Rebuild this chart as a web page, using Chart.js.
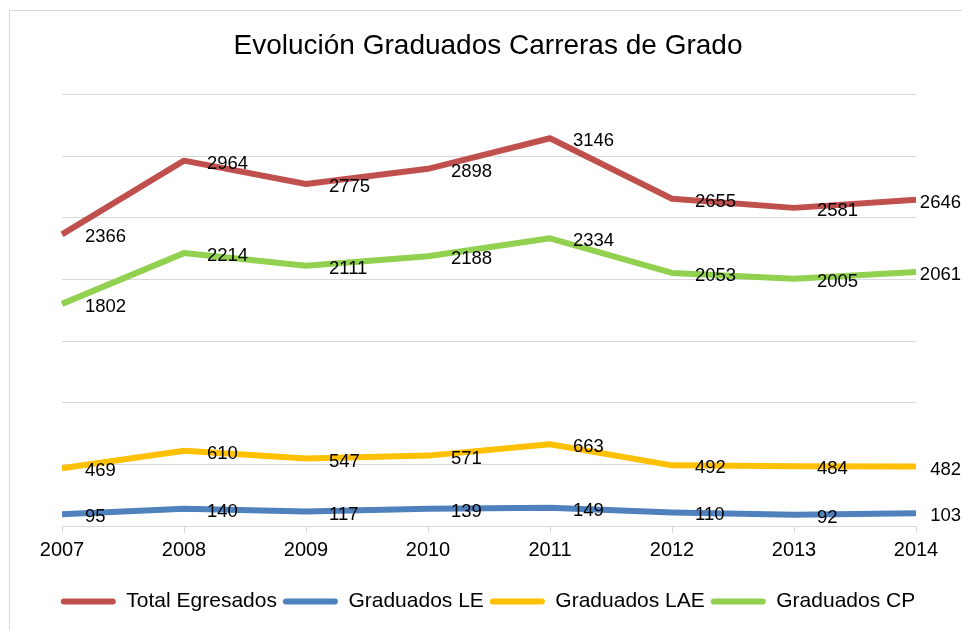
<!DOCTYPE html>
<html lang="es">
<head>
<meta charset="utf-8">
<title>Evolución Graduados Carreras de Grado</title>
<script src="https://cdn.jsdelivr.net/npm/chart.js@4.4.1/dist/chart.umd.min.js"></script>
<style>
  html, body { margin: 0; padding: 0; background: #fff; overflow: hidden; }
</style>
</head>
<body>
<canvas id="grafico" width="962" height="630"></canvas>
<script>
// Datos
const anios = ['2007', '2008', '2009', '2010', '2011', '2012', '2013', '2014'];
const totalEgresados = [2366, 2964, 2775, 2898, 3146, 2655, 2581, 2646];
const graduadosLE = [95, 140, 117, 139, 149, 110, 92, 103];
const graduadosLAE = [469, 610, 547, 571, 663, 492, 484, 482];
const graduadosCP = [1802, 2214, 2111, 2188, 2334, 2053, 2005, 2061];

const FUENTE = '"Liberation Sans", Arial, sans-serif';
const COLOR_GRILLA = '#d9d9d9';

/** Fondo blanco y borde del área del gráfico (estilo Excel) */
const fondoYBorde = {
  id: 'fondoYBorde',
  beforeDraw(chart) {
    const ctx = chart.ctx;
    ctx.save();
    ctx.fillStyle = '#fff';
    ctx.fillRect(0, 0, chart.width, chart.height);
    ctx.strokeStyle = COLOR_GRILLA;
    ctx.lineWidth = 1;
    ctx.strokeRect(9.5, 10.5, chart.width + 20, chart.height + 20);
    ctx.restore();
  },
};

/** Etiquetas de valor a la derecha de cada punto */
const etiquetasDatos = {
  id: 'etiquetasDatos',
  afterDatasetsDraw(chart) {
    const ctx = chart.ctx;
    ctx.save();
    ctx.font = '18.5px ' + FUENTE;
    ctx.fillStyle = '#000';
    ctx.textBaseline = 'alphabetic';
    chart.data.datasets.forEach((ds, i) => {
      const meta = chart.getDatasetMeta(i);
      meta.data.forEach((pt, j) => {
        const texto = String(ds.data[j]);
        const ancho = ctx.measureText(texto).width;
        const x = Math.min(pt.x + 23, chart.width - 1 - ancho);
        ctx.fillText(texto, x, pt.y + 8);
      });
    });
    ctx.restore();
  },
};

function serie(nombre, datos, color) {
  return {
    label: nombre,
    data: datos,
    borderColor: color,
    backgroundColor: color,
    borderWidth: 6,
    pointRadius: 0,
    pointHoverRadius: 0,
    tension: 0,
    borderJoinStyle: 'round',
    borderCapStyle: 'butt',
  };
}

new Chart(document.getElementById('grafico'), {
  type: 'line',
  data: {
    labels: anios,
    datasets: [
      serie('Total Egresados', totalEgresados, '#C0504D'),
      serie('Graduados LE', graduadosLE, '#4F81BD'),
      serie('Graduados LAE', graduadosLAE, '#FFC000'),
      serie('Graduados CP', graduadosCP, '#92D050'),
    ],
  },
  options: {
    responsive: false,
    animation: false,
    events: [],
    layout: { padding: { left: 17, right: 3, top: 12, bottom: 8 } },
    plugins: {
      title: {
        display: true,
        text: 'Evolución Graduados Carreras de Grado',
        color: '#000',
        font: { family: FUENTE, size: 28, weight: 'normal' },
        padding: { top: 17, bottom: 32 },
      },
      legend: {
        display: true,
        position: 'bottom',
        labels: {
          color: '#000',
          font: { family: FUENTE, size: 21 },
          boxWidth: 55,
          boxHeight: 6,
          padding: 6,
          useBorderRadius: true,
          borderRadius: 3,
          generateLabels(chart) {
            const items = Chart.defaults.plugins.legend.labels.generateLabels(chart);
            items.forEach(it => { it.lineWidth = 0; it.fillStyle = it.strokeStyle; });
            return items;
          },
        },
      },
      tooltip: { enabled: false },
    },
    scales: {
      x: {
        offset: false,
        grid: { drawOnChartArea: false, drawTicks: true, tickLength: 7, color: COLOR_GRILLA },
        border: { display: true, color: COLOR_GRILLA, width: 1 },
        ticks: { color: '#000', font: { family: FUENTE, size: 20 }, padding: 5, maxRotation: 0, autoSkip: false },
        afterFit(escala) {
          escala.height += 18;
          escala.paddingLeft = 62;
          escala.paddingRight = 46;
        },
      },
      y: {
        min: 0,
        max: 3500,
        ticks: { stepSize: 500, display: false },
        grid: { color: COLOR_GRILLA, drawTicks: false, lineWidth: 1 },
        border: { display: false },
      },
    },
  },
  plugins: [fondoYBorde, etiquetasDatos],
});
</script>
</body>
</html>
